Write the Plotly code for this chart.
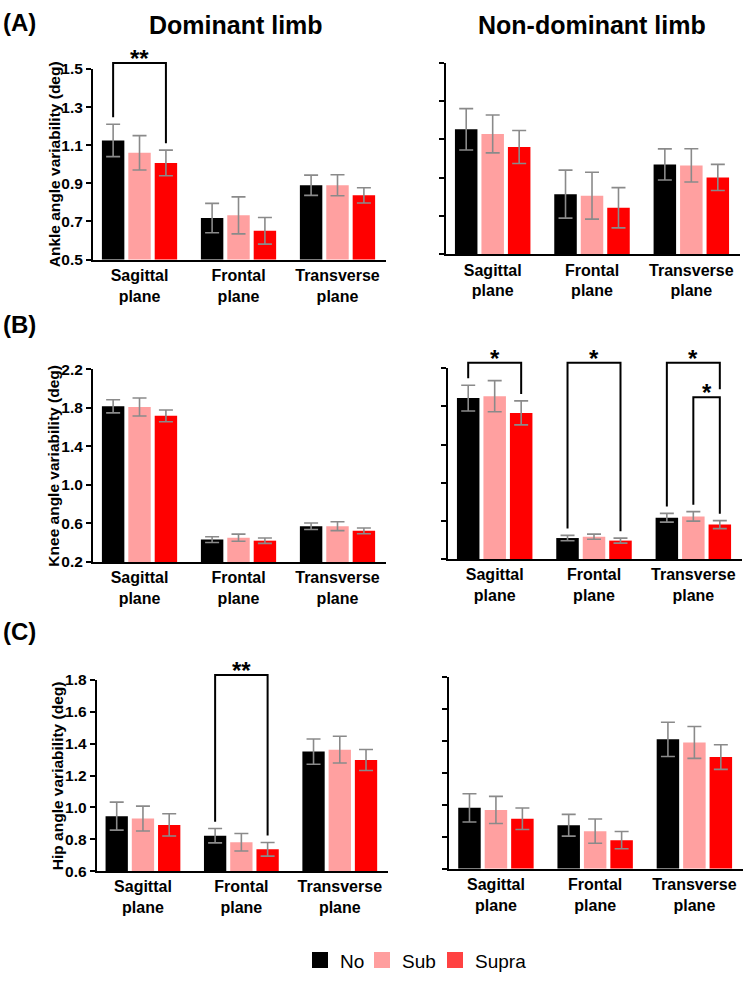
import plotly.graph_objects as go

W, H = 746, 982

planes = ["Sagittal<br>plane", "Frontal<br>plane", "Transverse<br>plane"]
conditions = ["No", "Sub", "Supra"]
bar_colors = ["#000000", "#FFA0A0", "#FF0000"]
legend_colors = ["#000000", "#FF9E9E", "#FF4242"]

# ---- Ankle (A) ----
ankle_dom_no = [1.125, 0.718, 0.890]
ankle_dom_sub = [1.060, 0.732, 0.890]
ankle_dom_supra = [1.007, 0.651, 0.837]
ankle_dom_no_se = [0.085, 0.077, 0.053]
ankle_dom_sub_se = [0.090, 0.097, 0.055]
ankle_dom_supra_se = [0.067, 0.070, 0.040]

ankle_nd_no = [1.152, 0.814, 0.969]
ankle_nd_sub = [1.128, 0.806, 0.964]
ankle_nd_supra = [1.060, 0.743, 0.901]
ankle_nd_no_se = [0.108, 0.125, 0.081]
ankle_nd_sub_se = [0.099, 0.122, 0.087]
ankle_nd_supra_se = [0.086, 0.105, 0.068]

# ---- Knee (B) ----
knee_dom_no = [1.816, 0.432, 0.571]
knee_dom_sub = [1.809, 0.452, 0.571]
knee_dom_supra = [1.717, 0.421, 0.523]
knee_dom_no_se = [0.068, 0.030, 0.034]
knee_dom_sub_se = [0.094, 0.037, 0.046]
knee_dom_supra_se = [0.061, 0.028, 0.030]

knee_nd_no = [1.888, 0.420, 0.633]
knee_nd_sub = [1.908, 0.434, 0.647]
knee_nd_supra = [1.733, 0.393, 0.561]
knee_nd_no_se = [0.135, 0.028, 0.046]
knee_nd_sub_se = [0.163, 0.027, 0.050]
knee_nd_supra_se = [0.126, 0.026, 0.042]

# ---- Hip (C) ----
hip_dom_no = [0.945, 0.822, 1.350]
hip_dom_sub = [0.930, 0.781, 1.362]
hip_dom_supra = [0.890, 0.737, 1.297]
hip_dom_no_se = [0.088, 0.045, 0.079]
hip_dom_sub_se = [0.078, 0.055, 0.084]
hip_dom_supra_se = [0.070, 0.043, 0.066]

hip_nd_no = [0.980, 0.871, 1.409]
hip_nd_sub = [0.967, 0.834, 1.390]
hip_nd_supra = [0.912, 0.778, 1.298]
hip_nd_no_se = [0.088, 0.068, 0.107]
hip_nd_sub_se = [0.085, 0.076, 0.100]
hip_nd_supra_se = [0.067, 0.054, 0.077]

# y-axis settings per joint
ankle_ticks = [0.5, 0.7, 0.9, 1.1, 1.3, 1.5]
knee_ticks = [0.2, 0.6, 1.0, 1.4, 1.8, 2.2]
hip_ticks = [0.6, 0.8, 1.0, 1.2, 1.4, 1.6, 1.8]

y_titles = ["Ankle angle variability (deg)", "Knee angle variability (deg)", "Hip angle variability (deg)"]

# significance brackets: (panel, plane index, bar i, bar j, level, label, stop-above-level)
significance = [
    ("A_dom", 0, 0, 2, 1.531, "**", None),
    ("B_nd", 0, 0, 2, 2.259, "*", None),
    ("B_nd", 1, 0, 2, 2.259, "*", None),
    ("B_nd", 2, 0, 2, 2.259, "*", 1.898),
    ("B_nd", 2, 1, 2, 1.898, "*", None),
    ("C_dom", 1, 0, 2, 1.830, "**", None),
]

# ---------------- layout geometry (pixels) ----------------
BARGAP = 0.2
BARGROUPGAP = 0.15
XRANGE = [-0.47, 2.49]

panels = {
    "A_dom": dict(means=[ankle_dom_no, ankle_dom_sub, ankle_dom_supra],
                  ses=[ankle_dom_no_se, ankle_dom_sub_se, ankle_dom_supra_se],
                  ticks=ankle_ticks, labels=True, px_x=(93, 386), px_y=(61, 255), title=0),
    "A_nd": dict(means=[ankle_nd_no, ankle_nd_sub, ankle_nd_supra],
                 ses=[ankle_nd_no_se, ankle_nd_sub_se, ankle_nd_supra_se],
                 ticks=ankle_ticks, labels=False, px_x=(446, 740), px_y=(54.5, 249.7)),
    "B_dom": dict(means=[knee_dom_no, knee_dom_sub, knee_dom_supra],
                  ses=[knee_dom_no_se, knee_dom_sub_se, knee_dom_supra_se],
                  ticks=knee_ticks, labels=True, px_x=(93, 386), px_y=(366.7, 562.7), title=1),
    "B_nd": dict(means=[knee_nd_no, knee_nd_sub, knee_nd_supra],
                 ses=[knee_nd_no_se, knee_nd_sub_se, knee_nd_supra_se],
                 ticks=knee_ticks, labels=False, px_x=(448, 742), px_y=(365.7, 559.7)),
    "C_dom": dict(means=[hip_dom_no, hip_dom_sub, hip_dom_supra],
                  ses=[hip_dom_no_se, hip_dom_sub_se, hip_dom_supra_se],
                  ticks=hip_ticks, labels=True, px_x=(96.7, 388), px_y=(682.7, 877.3), title=2),
    "C_nd": dict(means=[hip_nd_no, hip_nd_sub, hip_nd_supra],
                 ses=[hip_nd_no_se, hip_nd_sub_se, hip_nd_supra_se],
                 ticks=hip_ticks, labels=False, px_x=(449.3, 743), px_y=(679.7, 874.7)),
}

FONT = "Liberation Sans, Arial, sans-serif"

fig = go.Figure()
layout = dict(
    width=W, height=H, margin=dict(l=0, r=0, t=0, b=0),
    paper_bgcolor="white", plot_bgcolor="white",
    barmode="group", bargap=BARGAP, bargroupgap=BARGROUPGAP,
    font=dict(family=FONT, color="black"),
    showlegend=True,
)

shapes = []
annotations = []


def xpx(p, xv):
    x0, x1 = p["px_x"]
    return x0 + (x1 - x0) * (xv - XRANGE[0]) / (XRANGE[1] - XRANGE[0])


def ypx(p, v):
    yt, yb = p["px_y"]
    lo, hi = p["ticks"][0], p["ticks"][-1]
    return yb - (yb - yt) * (v - lo) / (hi - lo)


def bar_center(g, k):
    slot = (1 - BARGAP) / 3
    return g + (k - 1) * slot


for idx, (key, p) in enumerate(panels.items()):
    n = idx + 1
    xid = "x" if n == 1 else f"x{n}"
    yid = "y" if n == 1 else f"y{n}"
    for k in range(3):
        fig.add_trace(go.Bar(
            x=planes, y=p["means"][k], name=conditions[k],
            marker=dict(color=bar_colors[k], line=dict(width=0)),
            error_y=dict(type="data", array=p["ses"][k], color="#8a8a8a", thickness=1.6, width=7),
            xaxis=xid, yaxis=yid, showlegend=False, hoverinfo="skip",
        ))
    x0, x1 = p["px_x"]
    yt, yb = p["px_y"]
    layout["xaxis" if n == 1 else f"xaxis{n}"] = dict(
        domain=[x0 / W, x1 / W], anchor=yid, range=XRANGE, type="category",
        showline=True, linecolor="black", linewidth=2, ticks="", showgrid=False,
        zeroline=False, fixedrange=True,
        tickfont=dict(family=FONT, size=16, color="black", weight="bold"),
    )
    layout["yaxis" if n == 1 else f"yaxis{n}"] = dict(
        domain=[1 - yb / H, 1 - yt / H], anchor=xid,
        range=[p["ticks"][0], p["ticks"][-1]], tickvals=p["ticks"],
        ticktext=[f"{t:.1f}" for t in p["ticks"]], showticklabels=p["labels"],
        showline=True, linecolor="black", linewidth=2, ticks="outside", ticklen=5,
        tickwidth=2, tickcolor="black", showgrid=False, zeroline=False, fixedrange=True,
        tickfont=dict(family=FONT, size=15.5, color="black", weight="bold"),
    )
    if "title" in p:
        annotations.append(dict(
            text=y_titles[p["title"]], textangle=-90, xref="paper", yref="paper",
            x=(x0 - 39) / W, y=1 - ((yt + yb) / 2) / H, xanchor="center", yanchor="middle",
            showarrow=False, font=dict(family=FONT, size=15.5, color="black", weight="bold"),
        ))

# significance brackets
GAP = 7  # px above error bar top
for key, g, i, j, level, label, stop in significance:
    p = panels[key]
    xi = xpx(p, bar_center(g, i))
    xj = xpx(p, bar_center(g, j))
    ytop = ypx(p, level)
    yi = ypx(p, p["means"][i][g] + p["ses"][i][g]) - GAP
    if stop is None:
        yj = ypx(p, p["means"][j][g] + p["ses"][j][g]) - GAP
    else:
        yj = ypx(p, stop) - 8
    path = (f"M{xi / W},{1 - yi / H} L{xi / W},{1 - ytop / H} "
            f"L{xj / W},{1 - ytop / H} L{xj / W},{1 - yj / H}")
    shapes.append(dict(type="path", path=path, xref="paper", yref="paper",
                       line=dict(color="black", width=2)))
    annotations.append(dict(
        text=label, xref="paper", yref="paper", x=((xi + xj) / 2) / W, y=1 - (ytop + 11) / H,
        xanchor="center", yanchor="bottom", showarrow=False,
        font=dict(family=FONT, size=24, color="black", weight="bold"),
    ))

# headers and panel labels
annotations += [
    dict(text="Dominant limb", x=236 / W, y=1 - 16 / H, xref="paper", yref="paper",
         xanchor="center", yanchor="middle", showarrow=False,
         font=dict(family=FONT, size=25, color="black", weight="bold")),
    dict(text="Non-dominant limb", x=592 / W, y=1 - 16 / H, xref="paper", yref="paper",
         xanchor="center", yanchor="middle", showarrow=False,
         font=dict(family=FONT, size=25, color="black", weight="bold")),
]
for lab, yc in [("(A)", 14), ("(B)", 321), ("(C)", 633)]:
    annotations.append(dict(text=lab, x=1 / W, y=1 - yc / H, xref="paper", yref="paper",
                            xanchor="left", yanchor="middle", showarrow=False,
                            font=dict(family=FONT, size=24, color="black", weight="bold")))

# legend entries
legend_entry_widths = [17, 28, 53]
for k in range(3):
    fig.add_trace(go.Scatter(
        x=[None], y=[None], mode="markers", name=conditions[k],
        marker=dict(symbol="square", size=18, color=legend_colors[k]),
        xaxis="x", yaxis="y", showlegend=True, hoverinfo="skip",
        legendwidth=legend_entry_widths[k],
    ))

layout["legend"] = dict(
    orientation="h", x=300 / W, xanchor="left", y=1 - 968 / H, yanchor="middle",
    font=dict(family=FONT, size=19, color="black"), itemwidth=30,
    bgcolor="rgba(0,0,0,0)", traceorder="normal",
)
layout["shapes"] = shapes
layout["annotations"] = annotations
fig.update_layout(**layout)

fig.write_html("out.html", config={"displayModeBar": False},
               post_script="document.body.style.margin='0px';document.body.style.overflow='hidden';")
